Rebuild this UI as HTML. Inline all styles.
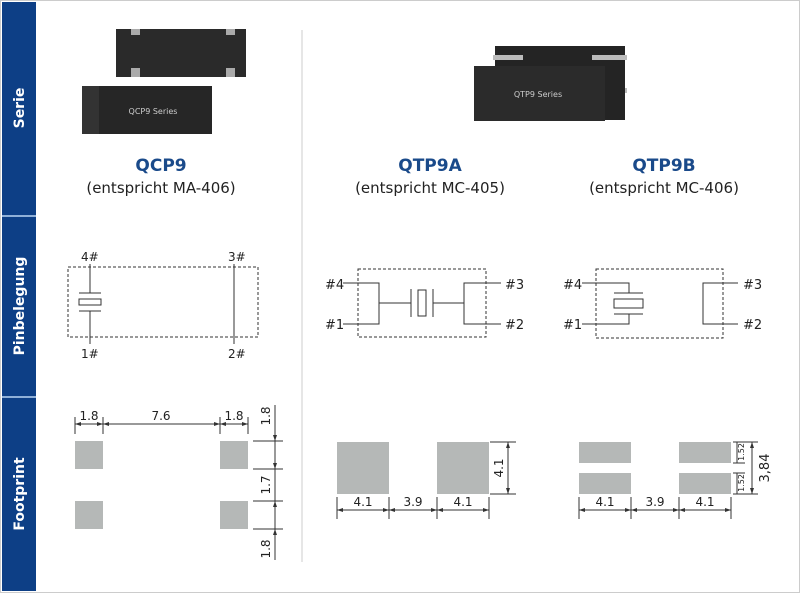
<!DOCTYPE html>
<html><head><meta charset="utf-8"><style>
html,body{margin:0;padding:0;background:#fff}
svg{display:block}
text{font-family:"DejaVu Sans","Liberation Sans",sans-serif;fill:#222}
</style></head><body>
<svg width="800" height="593" viewBox="0 0 800 593" xmlns="http://www.w3.org/2000/svg">
<rect x="0.5" y="0.5" width="799" height="592" fill="#fff" stroke="#ccc"/>
<!-- left bar -->
<rect x="2" y="2" width="34" height="589" fill="#0d3f86"/>
<rect x="2" y="215" width="34" height="2" fill="#8fb0d8"/>
<rect x="2" y="396" width="34" height="2" fill="#8fb0d8"/>
<g font-weight="bold" font-size="14" style="fill:#fff">
<text transform="translate(24,108) rotate(-90)" text-anchor="middle" style="fill:#fff">Serie</text>
<text transform="translate(24,306) rotate(-90)" text-anchor="middle" style="fill:#fff">Pinbelegung</text>
<text transform="translate(24,494) rotate(-90)" text-anchor="middle" style="fill:#fff">Footprint</text>
</g>
<line x1="302" y1="30" x2="302" y2="562" stroke="#ccc" stroke-width="1"/>
<!-- QCP9 photo -->
<rect x="116" y="29" width="130" height="48" fill="#2a2a2a"/>
<rect x="131" y="29" width="9" height="6" fill="#aaa"/><rect x="226" y="29" width="9" height="6" fill="#aaa"/>
<rect x="131" y="68" width="9" height="9" fill="#aaa"/><rect x="226" y="68" width="9" height="9" fill="#aaa"/>
<rect x="82" y="86" width="130" height="48" fill="#262626"/>
<rect x="82" y="86" width="17" height="48" fill="#333"/>
<text x="153" y="114" font-size="8" text-anchor="middle" style="fill:#ccc">QCP9 Series</text>
<!-- QTP photo -->
<rect x="495" y="46" width="130" height="38" fill="#242424"/>
<rect x="493" y="55" width="30" height="5" fill="#bbb"/><rect x="592" y="55" width="35" height="5" fill="#bbb"/>
<rect x="600" y="88" width="27" height="5" fill="#bbb"/>
<rect x="495" y="84" width="130" height="36" fill="#242424"/>
<rect x="474" y="66" width="131" height="55" fill="#2b2b2b"/>
<text x="538" y="97" font-size="8" text-anchor="middle" style="fill:#ccc">QTP9 Series</text>
<!-- titles -->
<g text-anchor="middle">
<text x="161" y="171" font-size="17" font-weight="bold" style="fill:#1a4a8a">QCP9</text>
<text x="161" y="193" font-size="15">(entspricht MA-406)</text>
<text x="430" y="171" font-size="17" font-weight="bold" style="fill:#1a4a8a">QTP9A</text>
<text x="430" y="193" font-size="15">(entspricht MC-405)</text>
<text x="664" y="171" font-size="17" font-weight="bold" style="fill:#1a4a8a">QTP9B</text>
<text x="664" y="193" font-size="15">(entspricht MC-406)</text>
</g>
<!-- Pinbelegung QCP9 -->
<g stroke="#333" stroke-width="1" fill="none">
<rect x="68" y="267" width="190" height="70" stroke-dasharray="3,2"/>
<line x1="90" y1="264" x2="90" y2="293"/><line x1="90" y1="311" x2="90" y2="344"/>
<line x1="79" y1="293" x2="101" y2="293"/><line x1="79" y1="311" x2="101" y2="311"/>
<rect x="79" y="299" width="22" height="6"/>
<line x1="234" y1="264" x2="234" y2="344"/>
</g>
<g font-size="12">
<text x="81" y="261">4#</text><text x="228" y="261">3#</text>
<text x="81" y="358">1#</text><text x="228" y="358">2#</text>
</g>
<!-- QTP9A pins -->
<g stroke="#333" stroke-width="1" fill="none">
<rect x="358" y="269" width="128" height="68" stroke-dasharray="3,2"/>
<polyline points="343,283 379,283 379,324 343,324"/>
<line x1="379" y1="303" x2="411" y2="303"/>
<line x1="411" y1="289" x2="411" y2="317"/>
<rect x="418" y="290" width="8" height="26"/>
<line x1="433" y1="289" x2="433" y2="317"/>
<line x1="433" y1="303" x2="464" y2="303"/>
<polyline points="501,283 464,283 464,324 501,324"/>
</g>
<g font-size="13">
<text x="325" y="289">#4</text><text x="325" y="329">#1</text>
<text x="505" y="289">#3</text><text x="505" y="329">#2</text>
</g>
<!-- QTP9B pins -->
<g stroke="#333" stroke-width="1" fill="none">
<rect x="596" y="269" width="127" height="69" stroke-dasharray="3,2"/>
<polyline points="582,283 629,283 629,293"/>
<line x1="614" y1="293" x2="643" y2="293"/>
<rect x="614" y="299" width="29" height="9"/>
<line x1="614" y1="314" x2="643" y2="314"/>
<polyline points="629,314 629,324 582,324"/>
<polyline points="738,283 703,283 703,324 738,324"/>
</g>
<g font-size="13">
<text x="563" y="289">#4</text><text x="563" y="329">#1</text>
<text x="743" y="289">#3</text><text x="743" y="329">#2</text>
</g>
<!-- Footprint QCP9 -->
<g fill="#b5b8b7">
<rect x="75" y="441" width="28" height="28"/><rect x="220" y="441" width="28" height="28"/>
<rect x="75" y="501" width="28" height="28"/><rect x="220" y="501" width="28" height="28"/>
<rect x="337" y="442" width="52" height="52"/><rect x="437" y="442" width="52" height="52"/>
<rect x="579" y="442" width="52" height="21"/><rect x="579" y="473" width="52" height="21"/>
<rect x="679" y="442" width="52" height="21"/><rect x="679" y="473" width="52" height="21"/>
</g>
<g stroke="#333" stroke-width="1" fill="none">
<line x1="75" y1="417" x2="75" y2="434"/><line x1="103" y1="417" x2="103" y2="434"/>
<line x1="220" y1="417" x2="220" y2="434"/><line x1="248" y1="417" x2="248" y2="434"/>
<line x1="75" y1="424" x2="248" y2="424"/>
<line x1="275" y1="405" x2="275" y2="560"/>
<line x1="253" y1="441" x2="283" y2="441"/><line x1="253" y1="469" x2="283" y2="469"/>
<line x1="253" y1="501" x2="283" y2="501"/><line x1="253" y1="529" x2="283" y2="529"/>
<!-- QTP9A -->
<line x1="337" y1="497" x2="337" y2="519"/><line x1="389" y1="497" x2="389" y2="519"/>
<line x1="437" y1="497" x2="437" y2="519"/><line x1="489" y1="497" x2="489" y2="519"/>
<line x1="337" y1="510" x2="489" y2="510"/>
<line x1="490" y1="442" x2="516" y2="442"/><line x1="490" y1="494" x2="516" y2="494"/>
<line x1="508" y1="442" x2="508" y2="494"/>
<!-- QTP9B -->
<line x1="579" y1="497" x2="579" y2="519"/><line x1="631" y1="497" x2="631" y2="519"/>
<line x1="679" y1="497" x2="679" y2="519"/><line x1="731" y1="497" x2="731" y2="519"/>
<line x1="579" y1="510" x2="731" y2="510"/>
<line x1="733" y1="442" x2="758" y2="442"/><line x1="733" y1="494" x2="758" y2="494"/>
<line x1="752" y1="442" x2="752" y2="494"/>
<line x1="733" y1="463" x2="745" y2="463"/><line x1="733" y1="473" x2="745" y2="473"/>
<line x1="737" y1="442" x2="737" y2="463"/><line x1="737" y1="473" x2="737" y2="494"/>
</g>
<g fill="#333">
<path d="M75,424 l6,-2 v4z M103,424 l-6,-2 v4z M103,424 l6,-2 v4z M220,424 l-6,-2 v4z M220,424 l6,-2 v4z M248,424 l-6,-2 v4z"/>
<path d="M275,441 l-2,-6 h4z M275,501 l-2,6 h4z M275,469 l-2,-6 h4z M275,529 l-2,6 h4z"/>
<path d="M337,510 l6,-2 v4z M389,510 l-6,-2 v4z M389,510 l6,-2 v4z M437,510 l-6,-2 v4z M437,510 l6,-2 v4z M489,510 l-6,-2 v4z"/>
<path d="M508,442 l-2,6 h4z M508,494 l-2,-6 h4z"/>
<path d="M579,510 l6,-2 v4z M631,510 l-6,-2 v4z M631,510 l6,-2 v4z M679,510 l-6,-2 v4z M679,510 l6,-2 v4z M731,510 l-6,-2 v4z"/>
<path d="M752,442 l-2,6 h4z M752,494 l-2,-6 h4z"/>
</g>
<g font-size="12" text-anchor="middle">
<text x="89" y="420">1.8</text><text x="161" y="420">7.6</text><text x="234" y="420">1.8</text>
<text transform="translate(270,416) rotate(-90)">1.8</text>
<text transform="translate(270,485) rotate(-90)">1.7</text>
<text transform="translate(270,549) rotate(-90)">1.8</text>
<text x="363" y="506">4.1</text><text x="413" y="506">3.9</text><text x="463" y="506">4.1</text>
<text transform="translate(503,468) rotate(-90)">4.1</text>
<text x="605" y="506">4.1</text><text x="655" y="506">3.9</text><text x="705" y="506">4.1</text>
<text transform="translate(769,468) rotate(-90)" font-size="13">3,84</text>
<text transform="translate(744,452) rotate(-90)" font-size="8">1.52</text>
<text transform="translate(744,483) rotate(-90)" font-size="8">1.52</text>
</g>
</svg>
</body></html>
